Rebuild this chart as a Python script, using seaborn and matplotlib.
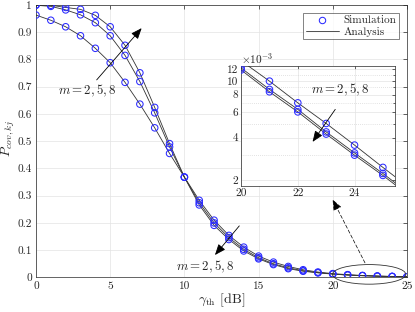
import numpy as np
import pandas as pd
import matplotlib
matplotlib.use("Agg")
import matplotlib.pyplot as plt
import seaborn as sns
from matplotlib.patches import Ellipse
from matplotlib.lines import Line2D
from matplotlib.ticker import FixedLocator, FuncFormatter, NullFormatter

# ---------------- data ----------------
gamma_sim = list(range(0, 26))
sim_m2 = [0.963, 0.944, 0.920, 0.887, 0.841, 0.788, 0.716, 0.636, 0.549, 0.455,
          0.368, 0.283, 0.210, 0.154, 0.111, 0.078, 0.056, 0.040, 0.028, 0.0196,
          0.0138, 0.00994, 0.0070, 0.00502, 0.00354, 0.00247]
sim_m5 = [0.999, 0.995, 0.982, 0.964, 0.935, 0.887, 0.815, 0.719, 0.604, 0.479,
          0.368, 0.274, 0.200, 0.146, 0.103, 0.072, 0.050, 0.035, 0.0245, 0.0174,
          0.0123, 0.0087, 0.0063, 0.00438, 0.00312, 0.00224]
sim_m8 = [1.000, 0.999, 0.991, 0.984, 0.962, 0.920, 0.852, 0.751, 0.624, 0.491,
          0.368, 0.266, 0.191, 0.139, 0.097, 0.068, 0.047, 0.032, 0.0225, 0.0166,
          0.0119, 0.00837, 0.00605, 0.00423, 0.00301, 0.00217]

gamma_ana = list(range(0, 27))
ana_m2 = sim_m2 + [0.00174]
ana_m5 = sim_m5 + [0.00158]
ana_m8 = sim_m8 + [0.00153]

m_values = [2, 5, 8]

sim_df = pd.DataFrame({
    "gamma": gamma_sim * 3,
    "P": sim_m2 + sim_m5 + sim_m8,
    "m": sum([[m] * len(gamma_sim) for m in m_values], []),
})
ana_df = pd.DataFrame({
    "gamma": gamma_ana * 3,
    "P": ana_m2 + ana_m5 + ana_m8,
    "m": sum([[m] * len(gamma_ana) for m in m_values], []),
})

# ---------------- style ----------------
sns.set_theme(style="white")
plt.rcParams["font.family"] = ["serif"]
plt.rcParams["font.serif"] = ["cmr10", "DejaVu Serif"]
plt.rcParams["mathtext.fontset"] = "cm"
plt.rcParams["axes.formatter.use_mathtext"] = True
plt.rcParams["axes.unicode_minus"] = False

FS = 8.1
LEG_FS = 8
ANN_FS = 9.3
line_c = "#333333"
mark_c = "#2b2bff"
grid_c = "#e3e3e3"
spine_c = "#262626"

fig = plt.figure(figsize=(4.15, 3.12), dpi=100)
ax = fig.add_axes([0.0867, 0.111, 0.894, 0.873])


def draw(a, ms):
    sns.lineplot(data=ana_df, x="gamma", y="P", units="m", estimator=None,
                 color=line_c, lw=0.6, ax=a, legend=False, sort=True)
    sns.scatterplot(data=sim_df, x="gamma", y="P", ax=a, marker="o",
                    facecolors="none", edgecolor=mark_c, linewidth=0.75,
                    s=ms, legend=False, zorder=3)


draw(ax, 22)
ax.set_xlim(0, 25)
ax.set_ylim(0, 1)
ax.set_xticks([0, 5, 10, 15, 20, 25])
ax.set_yticks(np.round(np.arange(0, 1.01, 0.1), 1))
ax.yaxis.set_major_formatter(FuncFormatter(lambda v, p: f"{v:g}"))
ax.xaxis.set_major_formatter(FuncFormatter(lambda v, p: f"{v:g}"))
ax.grid(True, color=grid_c, lw=0.5)
ax.tick_params(direction="in", length=3, width=0.5, top=True, right=True,
               labelsize=FS, pad=3, colors=spine_c)
for s in ax.spines.values():
    s.set_color(spine_c)
    s.set_linewidth(0.5)
ax.set_xlabel(r"$\gamma_{\rm th}$ [dB]", fontsize=10, labelpad=0)
ax.set_ylabel(r"$P_{cov,kj}$", fontsize=9.8)
ax.yaxis.set_label_coords(-0.052, 0.51)

# arrows and labels on the main axes
arrow_kw = dict(arrowstyle="-|>,head_length=0.55,head_width=0.22", color="black",
                lw=0.6, shrinkA=0, shrinkB=0, mutation_scale=12)
ax.annotate("", xy=(7.12, 0.915), xytext=(4.09, 0.725), arrowprops=arrow_kw)
ax.text(3.44, 0.686, r"$m=2,5,8$", fontsize=ANN_FS, ha="center", va="center")
ax.annotate("", xy=(12.06, 0.082), xytext=(13.70, 0.189), arrowprops=arrow_kw)
ax.text(11.4, 0.038, r"$m=2,5,8$", fontsize=ANN_FS, ha="center", va="center")

ell = Ellipse((22.45, 0.011), 4.94, 0.072, fill=False, edgecolor=line_c, lw=0.6,
              zorder=4, clip_on=False)
ax.add_patch(ell)
dash_kw = dict(arrowstyle="-|>,head_length=0.55,head_width=0.22", color="black",
               lw=0.5, ls=(0, (5, 3)), shrinkA=0, shrinkB=0, mutation_scale=12)
ax.annotate("", xy=(19.99, 0.2857), xytext=(22.17, 0.0533), arrowprops=dash_kw)

# legend
handles = [Line2D([], [], marker="o", ls="none", mfc="none", mec=mark_c, mew=0.75,
                  ms=4.6),
           Line2D([], [], color=line_c, lw=0.6)]
leg = ax.legend(handles, ["Simulation", "Analysis"], loc="upper right",
                bbox_to_anchor=(0.979, 0.971), fontsize=LEG_FS, frameon=True,
                fancybox=False, borderpad=0.25, handlelength=3.0,
                handletextpad=0.4, labelspacing=0.1, borderaxespad=0)
leg.get_frame().set_edgecolor(spine_c)
leg.get_frame().set_linewidth(0.5)

# ---------------- inset ----------------
ins = fig.add_axes([0.581, 0.405, 0.371, 0.383])
draw(ins, 22)
ins.set_yscale("log")
ins.set_xlim(20, 25.43)
ins.set_ylim(1.84e-3, 12.66e-3)
ins.set_xticks([20, 22, 24])
ins.xaxis.set_major_formatter(FuncFormatter(lambda v, p: f"{v:g}"))
ins.yaxis.set_major_locator(FixedLocator([2e-3, 4e-3, 6e-3, 8e-3, 10e-3, 12e-3]))
ins.yaxis.set_major_formatter(FuncFormatter(lambda v, p: f"{v*1e3:.0f}"))
ins.yaxis.set_minor_locator(FixedLocator([k * 1e-3 for k in range(2, 13)]))
ins.yaxis.set_minor_formatter(NullFormatter())
ins.grid(True, which="major", color=grid_c, lw=0.5)
ins.grid(True, which="minor", axis="y", color="#c8c8c8", lw=0.5, ls=(0, (1, 2)))
ins.tick_params(which="both", direction="in", length=2.5, width=0.5, top=True,
                right=True, labelsize=FS, pad=2, colors=spine_c)
ins.tick_params(which="minor", length=1.5)
for s in ins.spines.values():
    s.set_color(spine_c)
    s.set_linewidth(0.5)
ins.set_xlabel("")
ins.set_ylabel("")
ins.text(0.0, 1.0, r"$\times10^{-3}$", transform=ins.transAxes, fontsize=FS,
         ha="left", va="bottom")
ins.annotate("", xy=(22.52, 3.73e-3), xytext=(23.32, 6.30e-3), arrowprops=arrow_kw)
ins.text(23.49, 8.6e-3, r"$m=2,5,8$", fontsize=ANN_FS, ha="center", va="center")

fig.savefig("out.png", dpi=100)
